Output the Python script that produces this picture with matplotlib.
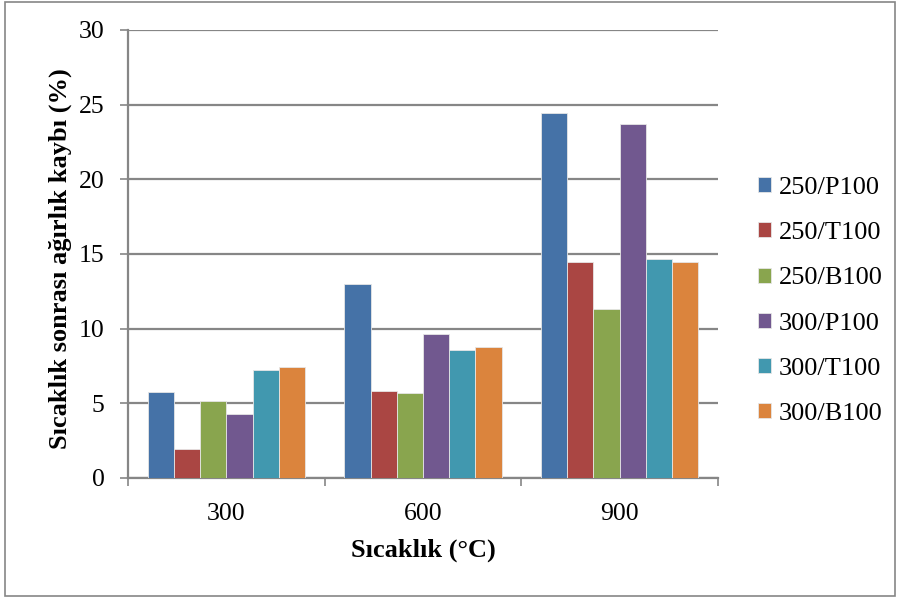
import matplotlib.pyplot as plt
import numpy as np
from matplotlib.patches import Rectangle

categories = ["300", "600", "900"]
series_names = ["250/P100", "250/T100", "250/B100", "300/P100", "300/T100", "300/B100"]
p250 = [5.75, 13.0, 24.45]
t250 = [1.95, 5.8, 14.45]
b250 = [5.17, 5.72, 11.35]
p300 = [4.27, 9.65, 23.7]
t300 = [7.23, 8.55, 14.65]
b300 = [7.43, 8.75, 14.45]
series_values = [p250, t250, b250, p300, t300, b300]
colors = ["#4572A7", "#AA4643", "#89A54E", "#71588F", "#4198AF", "#DB843D"]

plt.rcParams["font.family"] = ["Liberation Serif", "DejaVu Serif"]

fig = plt.figure(figsize=(9.01, 5.99), dpi=100)
W, H = 901, 599
ax = fig.add_axes([128 / W, 1 - 478 / H, (718 - 128) / W, (478 - 30) / H])

n = len(series_names)
bw = 1 / (n + 1.5)
x = np.arange(len(categories))
for i, (name, vals, c) in enumerate(zip(series_names, series_values, colors)):
    offs = -0.5 + 0.75 * bw + i * bw + bw / 2
    ax.bar(x + offs, vals, width=bw, color=c, edgecolor="#e6e6e6",
           linewidth=0.6, label=name, zorder=3)

ax.set_xlim(-0.5, len(categories) - 0.5)
ax.set_ylim(0, 30)
ax.set_yticks(range(0, 31, 5))
ax.yaxis.grid(True, color="#868686", linewidth=1.6, zorder=0)
ax.set_axisbelow(True)

ax.set_xticks(x)
ax.set_xticklabels(categories)
ax.set_xticks(np.arange(-0.5, len(categories), 1), minor=True)
ax.tick_params(axis="x", which="major", length=0, pad=18, labelsize=18.5)
ax.tick_params(axis="x", which="minor", length=6, width=1.2, color="#868686", direction="out")
ax.tick_params(axis="y", length=6, width=1.2, color="#868686", direction="out",
               labelsize=18.5, pad=11)

for s in ["top", "right"]:
    ax.spines[s].set_visible(False)
for s in ["left", "bottom"]:
    ax.spines[s].set_color("#868686")
    ax.spines[s].set_linewidth(1.6)

ax.set_xlabel("Sıcaklık (°C)", fontsize=19, fontweight="bold", labelpad=10)
ax.set_ylabel("Sıcaklık sonrası ağırlık kaybı (%)", fontsize=19, fontweight="bold")
ax.yaxis.set_label_coords(-0.095, 0.489)

ax.legend(loc="center left", bbox_to_anchor=(758 / W, 1 - 301 / H),
          bbox_transform=fig.transFigure, frameon=False, fontsize=19,
          handlelength=0.5, handleheight=0.5, handletextpad=0.3,
          labelspacing=0.88, borderpad=0, borderaxespad=0)

fig.patches.append(Rectangle((5 / W, 3 / H), 890 / W, 594 / H, transform=fig.transFigure,
                             fill=False, edgecolor="#868686", linewidth=1.2))

fig.savefig("out.png", dpi=100)
